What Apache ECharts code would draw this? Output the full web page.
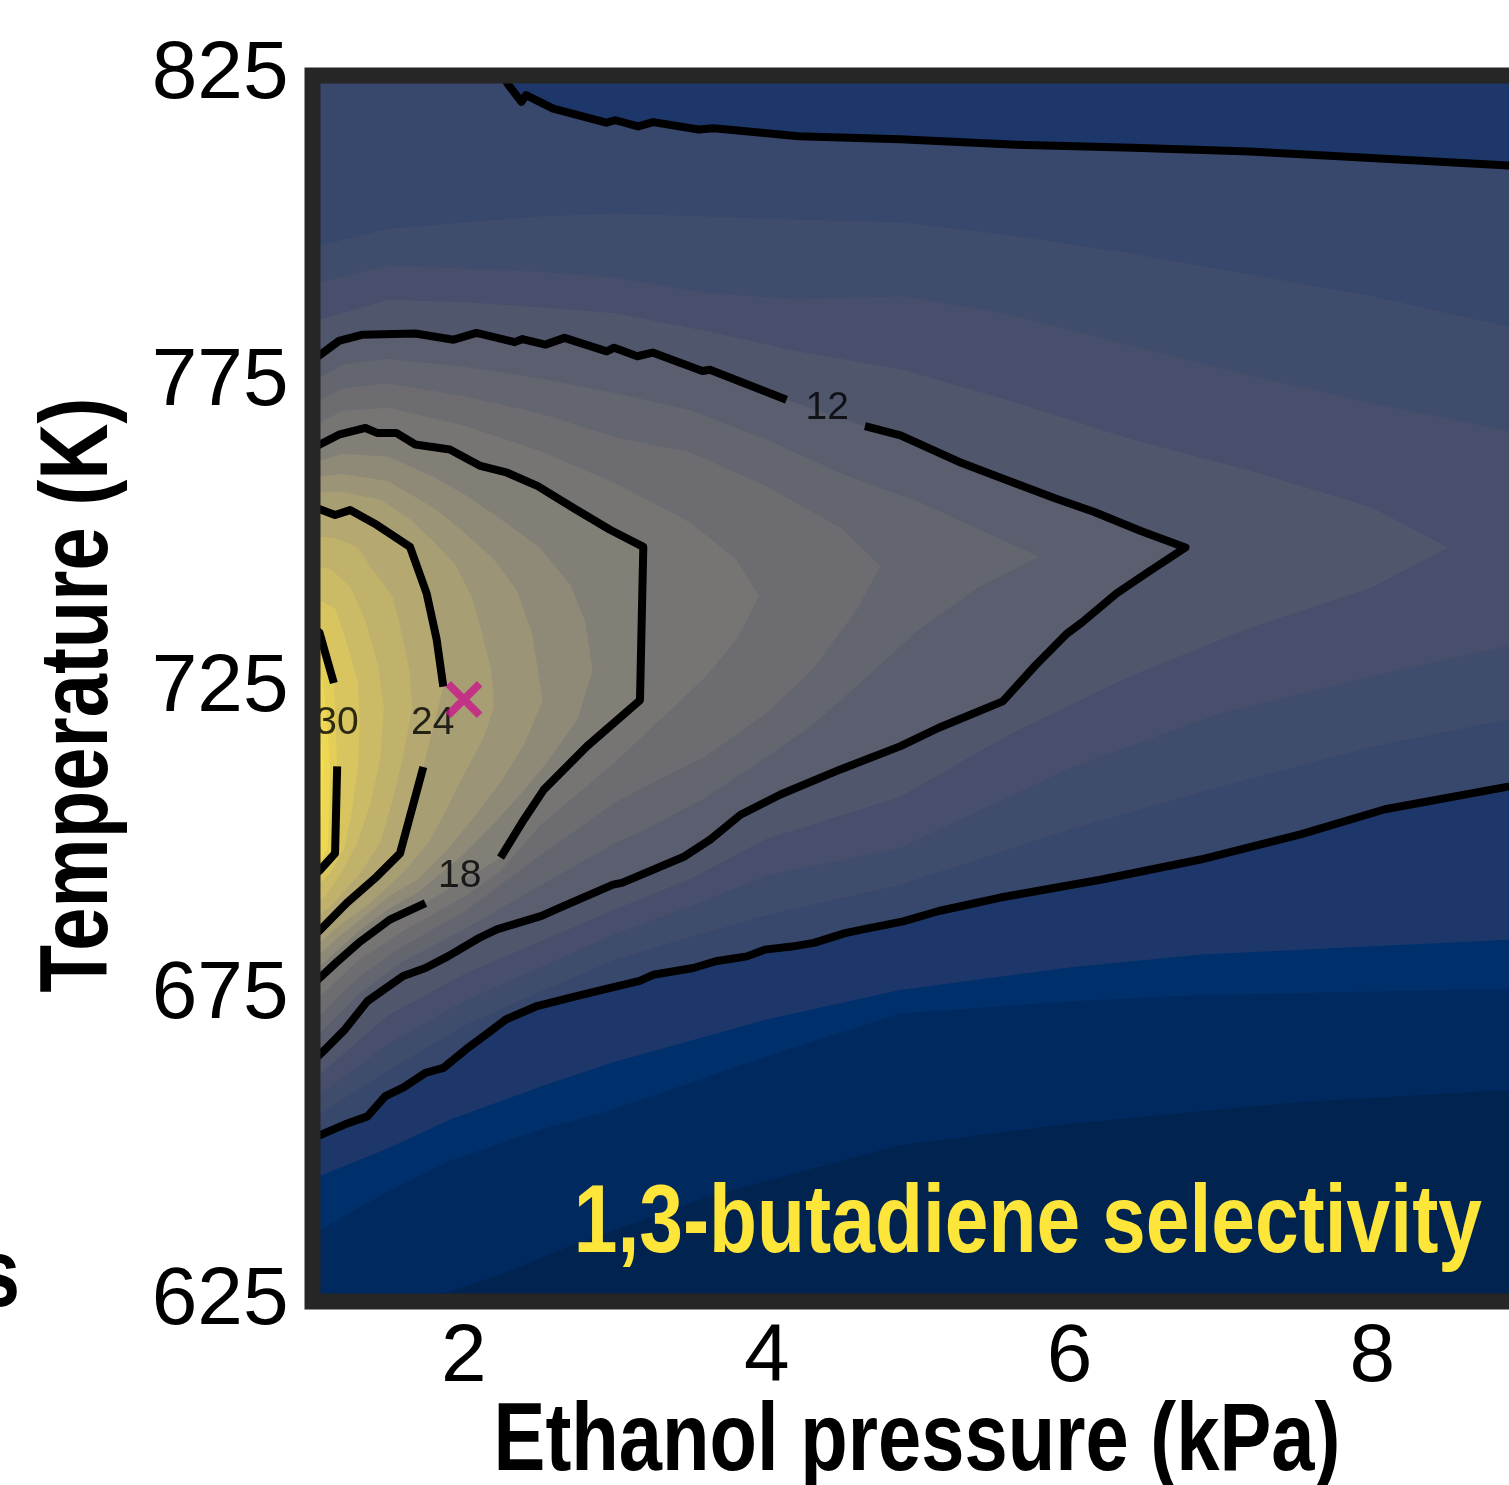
<!DOCTYPE html>
<html><head><meta charset="utf-8">
<script src="https://cdn.jsdelivr.net/npm/echarts@6/dist/echarts.min.js"></script>
<style>html,body{margin:0;padding:0;background:#fff}#c{width:1509px;height:1485px}</style>
</head><body><div id="c"></div>
<script>
// ---------- data (x = ethanol pressure / kPa, y = temperature / K) ----------
const PRESSURE_RANGE = [1, 10];
const TEMP_RANGE = [625, 825];
const X_TICKS = [2, 4, 6, 8];
const Y_TICKS = [625, 675, 725, 775, 825];

// contour lines (drawn, labelled levels)
const C6_TOP = [[2.26,825],[2.29,823.6],[2.38,820.7],[2.41,821.8],[2.59,819.6],[2.94,817.3],[3.0,817.7],[3.15,816.7],[3.25,817.4],[3.55,816.2],[3.65,816.4],[3.95,815.7],[4.21,815.1],[4.88,814.6],[5.65,813.7],[6.42,813.2],[7.19,812.6],[7.96,811.6],[8.9,810.3],[10,808.8]];
const C6_BOTTOM = [[1,651.6],[1.215,653.9],[1.363,655.2],[1.481,658.5],[1.599,659.9],[1.746,662.3],[1.865,663.1],[2.012,666.1],[2.159,668.8],[2.277,671.0],[2.483,673.2],[2.69,674.5],[2.926,675.9],[3.162,677.3],[3.25,678.3],[3.516,679.4],[3.663,680.5],[3.869,681.3],[3.987,682.4],[4.164,682.9],[4.312,683.5],[4.518,685.1],[4.636,685.7],[4.902,687.0],[5.137,688.7],[5.343,689.8],[5.544,690.9],[6.205,693.8],[6.865,697.1],[7.526,701.2],[8.084,705.3],[8.898,709.0],[10,713.4]];
const C12_A = [[1,778.5],[1.174,781.7],[1.325,782.7],[1.679,782.9],[1.932,781.9],[2.083,783.0],[2.336,781.5],[2.387,782.0],[2.538,781.1],[2.665,782.2],[2.943,780.0],[2.993,780.6],[3.145,779.2],[3.246,779.8],[3.575,776.8],[3.625,777.0],[4.131,772.1]];
const C12_B = [[4.649,767.8],[4.884,766.3],[5.267,762.0],[5.575,759.1],[5.908,756.0],[6.164,753.8],[6.471,750.7],[6.766,748.0],[6.52,744.0],[6.31,740.5],[6.084,735.8],[5.98,733.9],[5.776,728.8],[5.559,722.9],[5.137,718.6],[4.884,715.6],[4.487,711.8],[4.091,707.7],[3.827,704.4],[3.629,700.4],[3.457,697.6],[3.044,693.3],[2.985,693.0],[2.631,689.2],[2.513,687.9],[2.218,685.7],[2.1,684.3],[1.894,681.3],[1.746,679.4],[1.599,678.1],[1.363,674.0],[1.215,669.4],[1.083,666.1],[1,664.2]];
const C18_A = [[1,764.2],[1.174,766.4],[1.35,767.5],[1.426,766.7],[1.553,766.7],[1.679,764.8],[1.907,764.0],[2.109,761.3],[2.286,760.2],[2.488,758.0],[2.74,754.2],[2.965,750.9],[3.185,748.1],[3.163,723.1],[2.814,715.6],[2.528,708.5],[2.396,703.6],[2.242,697.4]];
const C18_B = [[1.746,690.0],[1.511,687.3],[1.304,683.5],[1.157,680.3],[1,676.7]];
const C24_A = [[1,754.7],[1.149,753.3],[1.248,754.1],[1.424,751.7],[1.644,748.1],[1.754,740.5],[1.820,733.0],[1.864,725.3]];
const C24_B = [[1.732,712.2],[1.578,698.1],[1.424,694.3],[1.226,690.0],[1.05,685.6],[1,684.5]];
const C30_A = [[1,735.0],[1.046,734.1],[1.141,725.9]];
const C30_B = [[1.163,712.3],[1.149,698.1],[1.05,695.4],[1,694.3]];

// intermediate levels estimated from the colour bands
const L1_5 = [[1.7,625],[2.2,629],[2.7,634],[3.6,642],[4.88,650.5],[6.0,654],[7.5,657.5],[8.9,659.5],[10,661]];
const L3 = [[1,636],[1.5,643],[1.91,648],[2.5,653],[2.98,656.3],[4.0,665],[4.88,672],[6.0,674],[6.87,675],[8.9,676],[10,677]];
const L4_5 = [[1,645],[1.5,650],[1.91,654.7],[2.5,660],[2.98,664],[4.0,671],[4.88,675.8],[6.0,679.5],[6.87,681.6],[8.9,684],[10,685.5]];
const L7_5_TOP = [[1,797],[1.5,800],[2,801],[2.5,802],[3,802.5],[3.6,802],[4.2,801.5],[4.9,801],[5.6,799],[6.4,796],[7.2,792.5],[8,789],[8.9,784],[10,778]];
const L7_5_BOTTOM = [[10,727],[8.9,720],[8,715.5],[7,709],[6,702],[4.88,693],[4,688],[3.5,684.5],[3,680.8],[2.5,675.5],[2,670],[1.5,662.7],[1.2,658],[1,654.8]];
const L9_TOP = [[1,791],[1.5,794],[2,793.5],[2.5,793],[3,792],[3.6,789.5],[4.2,788.5],[4.9,789],[5.6,786],[6.4,781],[7.2,776],[8,771.5],[8.9,767],[10,755]];
const L9_BOTTOM = [[10,744],[8.9,732],[8,727],[7,721],[6,712],[4.88,699],[4,694.5],[3.5,689.5],[3,685],[2.5,679.5],[2,674],[1.5,667],[1.2,661.5],[1,658]];
const L10_5 = [[1,784.8],[1.5,788.4],[2,788],[2.5,787.2],[3,786.2],[3.6,783.3],[4.2,780],[4.9,777],[5.6,772],[6.4,765.7],[7.2,760.5],[8,754.5],[8.5,748],[8,741.5],[7.2,735],[6.4,727],[5.6,717.5],[4.88,707.3],[4,700.5],[3.5,694],[3,689],[2.5,683.7],[2,678.4],[1.5,671.7],[1.2,665.3],[1,661]];
const L13_5 = [[1,775],[1.2,777.9],[1.5,778.8],[2,777.5],[2.5,775.6],[3,773.2],[3.5,770.4],[4,765.6],[4.5,760],[5,755.5],[5.4,751],[5.8,746.5],[5.4,741.5],[5,734.5],[4.6,725.5],[4.3,719],[4,713.8],[3.6,707.2],[3.2,702],[3,699.8],[2.5,692.8],[2,685.7],[1.6,680.5],[1.3,675],[1,667.4]];
const L15 = [[1,771.4],[1.2,774],[1.5,774.8],[2,772.7],[2.5,769.9],[3,766],[3.5,763.5],[4,758],[4.5,751],[4.75,745],[4.6,738],[4.3,728],[4,721],[3.6,714],[3.2,709],[3,706.4],[2.5,697.7],[2,688.5],[1.6,683],[1.3,677.8],[1,670.5]];
const L16_5 = [[1,767.8],[1.2,770.3],[1.5,770.8],[2,767.9],[2.5,763.8],[3,758.5],[3.5,752],[3.8,746],[3.95,740],[3.8,733],[3.6,727],[3.3,720],[3,713],[2.5,702.6],[2.24,695.2],[2,691],[1.6,685.5],[1.3,680.6],[1,673.6]];
const L19_5 = [[1,761.8],[1.2,763.3],[1.5,762.8],[1.8,759.5],[2,756.7],[2.2,753.4],[2.5,748],[2.7,742],[2.8,736],[2.85,728],[2.75,720],[2.55,713],[2.4,708.5],[2.2,703],[2,698],[1.7,691.8],[1.5,689],[1.3,685.3],[1,678.6]];
const L21 = [[1,759.5],[1.2,760],[1.5,758.8],[1.8,754.5],[2.0,750.5],[2.2,746],[2.35,741],[2.45,734],[2.52,723],[2.4,716],[2.25,710],[2.1,705],[1.9,699],[1.7,694],[1.5,691],[1.3,687],[1.15,684],[1,680.6]];
const L22_5 = [[1,757.1],[1.2,757],[1.45,755.8],[1.65,752.5],[1.8,749],[1.95,745],[2.05,740],[2.12,734],[2.18,728],[2.2,722],[2.13,717],[1.98,710],[1.88,705],[1.77,700],[1.6,695],[1.38,690],[1.16,686],[1,682.5]];
const L25_5 = [[1,749.9],[1.15,749.5],[1.3,748],[1.38,745],[1.53,740],[1.58,735],[1.64,728],[1.66,722],[1.6,714],[1.52,706],[1.45,700],[1.32,695],[1.14,690],[1,687]];
const L27 = [[1,745],[1.12,744.5],[1.25,741.5],[1.35,736],[1.43,729],[1.47,722],[1.45,714],[1.38,706],[1.3,700],[1.18,694.5],[1.08,691],[1,689.5]];
const L28_5 = [[1,740],[1.15,738],[1.22,733],[1.3,726],[1.31,719],[1.3,712],[1.26,705],[1.21,699],[1.12,695],[1,692]];
const L31_5 = [[1,730],[1.07,726],[1.1,719],[1.115,712],[1.11,705],[1.1,699],[1.04,696.5],[1,696]];
const L33 = [[1,725],[1.04,721],[1.07,713],[1.065,705],[1.04,700],[1,697.5]];

const CONTOUR_LABELS = ['12', '18', '24', '30'];
const CONTOUR_LABEL_AT = [[4.40,770.7],[1.973,694.3],[1.794,719.3],[1.162,719.3]];
const OPTIMUM = [2.0, 723.2];

// ---------- styles ----------
const BAND_COLORS = ['#00234f','#002a5f','#00306c','#1d376b','#38476c','#404c6c','#474f6c','#50576d','#5a5e6e','#63656f','#6c6c71','#767574','#827f77','#8f8a78','#9c9476','#a89e74','#b5a870','#c1b26b','#ccbb66','#d8c55f','#e3ce58','#eed853','#f7e04b'];

const [X0, X1] = PRESSURE_RANGE, [Y0, Y1] = TEMP_RANGE;
const rev = a => a.slice().reverse();
const REGIONS = [
  [[X0,Y0],[X1,Y0],[X1,Y1],[X0,Y1]],
  [[X0,Y0]].concat(L1_5, [[X1,Y1],[X0,Y1]]),
  L3.concat([[X1,Y1],[X0,Y1]]),
  L4_5.concat([[X1,Y1],[X0,Y1]]),
  C6_BOTTOM.concat(rev(C6_TOP), [[X0,Y1]]),
  L7_5_TOP.concat(L7_5_BOTTOM),
  L9_TOP.concat(L9_BOTTOM),
  L10_5,
  C12_A.concat(C12_B),
  L13_5,
  L15,
  L16_5,
  C18_A.concat(C18_B),
  L19_5,
  L21,
  L22_5,
  C24_A.concat(C24_B),
  L25_5,
  L27,
  L28_5,
  C30_A.concat(C30_B),
  L31_5,
  L33
];
const SEGMENTS = [C6_TOP, C6_BOTTOM, C12_A, C12_B, C18_A, C18_B, C24_A, C24_B, C30_A, C30_B];

const GRID = {left: 312.5, top: 75.5, width: 1362.6, height: 1226, outerBoundsMode: 'none', containLabel: false};
const chart = echarts.init(document.getElementById('c'), null, {renderer: 'canvas'});

const series = [{
  type: 'custom',
  silent: true,
  z: 1,
  clip: true,
  data: REGIONS.map(r => r[0]),
  renderItem: (params, api) => ({
    type: 'polygon',
    shape: {points: REGIONS[params.dataIndex].map(p => api.coord(p))},
    style: {fill: BAND_COLORS[params.dataIndex], stroke: null}
  })
}];
SEGMENTS.forEach(seg => series.push({
  type: 'line', data: seg, showSymbol: false, silent: true, z: 3,
  lineStyle: {color: '#000', width: 8, join: 'round', cap: 'butt'}
}));
series.push({
  type: 'scatter', z: 4, silent: true, symbolSize: 1,
  itemStyle: {color: 'rgba(0,0,0,0)'},
  data: CONTOUR_LABELS.map((t, i) => ({name: t, value: CONTOUR_LABEL_AT[i]})),
  label: {show: true, position: 'inside', formatter: '{b}', fontSize: 39,
          fontFamily: '"Liberation Sans", Arial, sans-serif', color: '#000'}
});
series.push({
  type: 'scatter', z: 5, silent: true, symbolSize: 37,
  symbol: 'path://M1.5,0 L5,3.5 L8.5,0 L10,1.5 L6.5,5 L10,8.5 L8.5,10 L5,6.5 L1.5,10 L0,8.5 L3.5,5 L0,1.5 Z',
  itemStyle: {color: '#c8188b'},
  data: [OPTIMUM]
});

const titleFont = 'bold 96px "Liberation Sans", Arial, sans-serif';
chart.setOption({
  animation: false,
  grid: GRID,
  xAxis: {
    type: 'value', min: X0, max: X1, interval: 1,
    axisLine: {show: false}, axisTick: {show: false}, splitLine: {show: false},
    axisLabel: {margin: 16, fontSize: 82, color: '#000', fontFamily: '"Liberation Sans", Arial, sans-serif',
                formatter: v => X_TICKS.includes(v) ? String(v) : ''}
  },
  yAxis: {
    type: 'value', min: Y0, max: Y1, interval: 25,
    axisLine: {show: false}, axisTick: {show: false}, splitLine: {show: false},
    axisLabel: {margin: 24, fontSize: 82, color: '#000', padding: [8, 0, 0, 0], fontFamily: '"Liberation Sans", Arial, sans-serif',
                formatter: v => Y_TICKS.includes(v) ? String(v) : ''}
  },
  series: series,
  graphic: [
    {type: 'rect', z: 100, silent: true,
     shape: {x: GRID.left, y: GRID.top, width: GRID.width, height: GRID.height},
     style: {fill: 'none', stroke: '#262626', lineWidth: 16}},
    {type: 'text', z: 100, x: 917, y: 1444, scaleX: 0.81,
     style: {text: 'Ethanol pressure (kPa)', font: titleFont, fill: '#000', align: 'center', verticalAlign: 'middle'}},
    {type: 'text', z: 100, x: 81, y: 695, rotation: Math.PI / 2, scaleX: 0.81,
     style: {text: 'Temperature (K)', font: titleFont, fill: '#000', align: 'center', verticalAlign: 'middle'}},
    {type: 'text', z: 100, x: 1482, y: 1225, scaleX: 0.81,
     style: {text: '1,3-butadiene selectivity', font: 'bold 97px "Liberation Sans", Arial, sans-serif', fill: '#fde639', align: 'right', verticalAlign: 'middle'}},
    {type: 'text', z: 100, x: 20, y: 1280, scaleX: 0.81,
     style: {text: 's', font: titleFont, fill: '#000', align: 'right', verticalAlign: 'middle'}}
  ]
});
</script></body></html>
